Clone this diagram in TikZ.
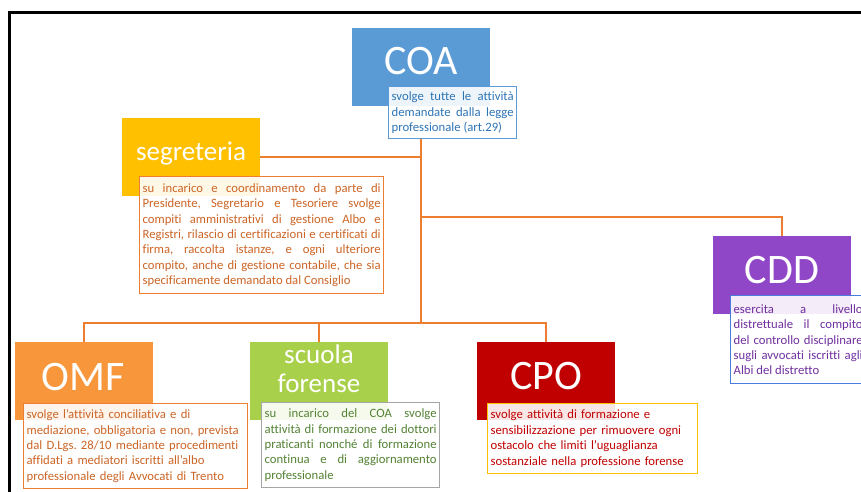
\documentclass[tikz,border=0pt]{standalone}
\usepackage{fontspec}
\setmainfont{Carlito}[Ligatures=NoCommon]
\frenchspacing
\usetikzlibrary{positioning,calc}

\definecolor{coablue}{HTML}{5B9BD5}
\definecolor{segyellow}{HTML}{FFC000}
\definecolor{cddpurple}{HTML}{9047C7}
\definecolor{omforange}{HTML}{F7963A}
\definecolor{scuolagreen}{HTML}{A9D04A}
\definecolor{cpored}{HTML}{C00000}
\definecolor{linkorange}{HTML}{ED7D31}
\definecolor{orangetext}{HTML}{CC6526}
\definecolor{greentext}{HTML}{548235}
\definecolor{bluetext}{HTML}{2E75B6}
\definecolor{purpletext}{HTML}{7030A0}

\tikzset{
  head/.style={minimum width=138pt,minimum height=78pt,anchor=north west,inner sep=0pt},
  headname/.style={anchor=base,text=white,align=center,font=\fontsize{42}{44}\selectfont},
  headsmall/.style={headname,font=\fontsize{27}{29}\selectfont},
  info/.style={draw,line width=1.3pt,fill=white,fill opacity=0.9,text opacity=1,
    anchor=north west,inner sep=3pt,font=\fontsize{12.7}{15.4}\selectfont},
  link/.style={draw=linkorange,line width=1.6pt}
}

\begin{document}
\begin{tikzpicture}[x=1pt,y=-1pt]
\useasboundingbox (0,0) rectangle (861,492);
\draw[line width=2.5pt] (9.5,12.5) rectangle (890,520);

% top
\node[head,fill=coablue] (coa) at (352,28) {};
\node[headname] (coa-name) at (421,75) {COA};
\node[info,draw=coablue,text=bluetext,text width=122pt,minimum height=52pt,align=justify] (coadesc) at (388,86)
  {svolge tutte le attività\linebreak demandate dalla legge\linebreak professionale (art.29)};

\node[head,fill=segyellow] (seg) at (122,118) {};
\node[headsmall] (seg-name) at (191,160) {segreteria};
\node[info,draw=linkorange,text=orangetext,text width=238pt,minimum height=117pt,align=justify] (segdesc) at (139,176)
  {su incarico e coordinamento da parte di\linebreak Presidente, Segretario e Tesoriere svolge\linebreak
   compiti amministrativi di gestione Albo e\linebreak Registri, rilascio di certificazioni e certificati di\linebreak
   firma, raccolta istanze, e ogni ulteriore\linebreak compito, anche di gestione contabile, che sia\linebreak
   specificamente demandato dal Consiglio};

\node[head,fill=cddpurple] (cdd) at (713,236) {};
\node[headname] (cdd-name) at (782,283) {CDD};
\node[info,draw=coablue!80!blue,text=purpletext,text width=129pt,minimum height=88pt,align=justify] (cdddesc) at (730,295)
  {esercita a livello\linebreak distrettuale il compito\linebreak del controllo disciplinare\linebreak
   sugli avvocati iscritti agli\linebreak Albi del distretto};

% bottom row
\node[head,fill=omforange] (omf) at (15,342) {};
\node[headname] (omf-name) at (83,390) {OMF};
\node[info,draw=linkorange,text=orangetext,text width=218pt,minimum height=85pt,align=left] (omfdesc) at (23,403)
  {svolge l’attività conciliativa e di\\ mediazione, obbligatoria e non, prevista\\
   dal D.Lgs. 28/10 mediante procedimenti\\ affidati a mediatori iscritti all’albo\\
   professionale degli Avvocati di Trento};

\node[head,fill=scuolagreen] (scuola) at (250,342) {};
\node[headsmall] (scuola-name) at (319,392) {scuola\\forense};
\node[info,draw=gray!70,text=greentext,text width=172pt,minimum height=85pt,align=justify] (scuoladesc) at (261,402)
  {su incarico del COA svolge\linebreak attività di formazione dei dottori\linebreak
   praticanti nonché di formazione\linebreak continua e di aggiornamento\linebreak professionale};

\node[head,fill=cpored] (cpo) at (477,342) {};
\node[headname] (cpo-name) at (546,389) {CPO};
\node[info,draw=segyellow,text=cpored,text width=204pt,minimum height=70pt,align=left] (cpodesc) at (487,403)
  {svolge attività di formazione e\\ sensibilizzazione per rimuovere ogni\\
   ostacolo che limiti l’uguaglianza\\ sostanziale nella professione forense};

% connectors
\coordinate (hub) at (421,323);
\coordinate (cddfork) at (421,217);
\draw[link] (coadesc.south -| hub) -- (hub);
\draw[link] (seg.east) -- (seg.east -| hub);
\draw[link] (cddfork) -| (cdd.north);
\draw[link] (omf.north) |- (hub) -| (cpo.north);
\draw[link] (scuola.north) -- (scuola.north |- hub);
\end{tikzpicture}
\end{document}
